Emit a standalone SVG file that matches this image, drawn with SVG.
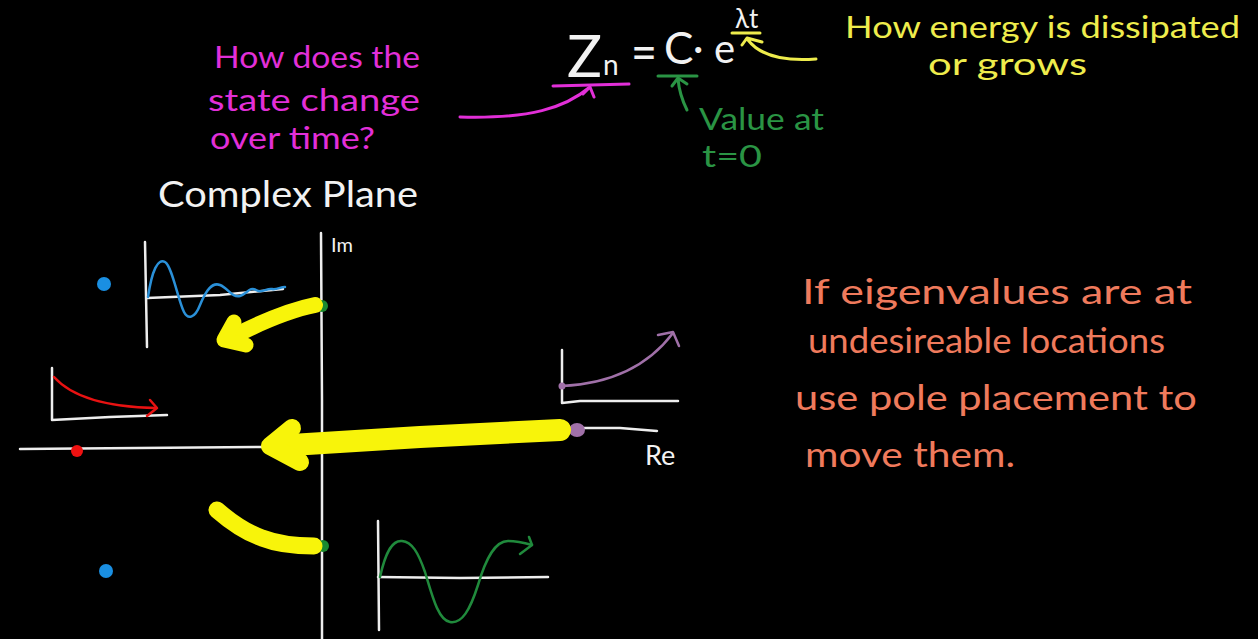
<svg xmlns="http://www.w3.org/2000/svg" width="1258" height="639" viewBox="0 0 1258 639">
<style>
text{font-family:"Lato","Open Sans","Liberation Sans",sans-serif}
.mag{fill:#e22fd8;font-size:31px}
.yel{fill:#eeec4c;font-size:31px}
.org{fill:#ef7a5c;font-size:34px}
.grn{fill:#2a9444;font-size:30px}
.wht{fill:#f2f2f2}
.ax{fill:none;stroke:#eeeeee;stroke-width:2.5;stroke-linecap:round;stroke-linejoin:round}
.thin{fill:none;stroke-width:2.5;stroke-linecap:round;stroke-linejoin:round}
.hl{fill:none;stroke:#f8f40a;stroke-linecap:round;stroke-linejoin:round}
</style>
<rect width="1258" height="639" fill="#000"/>

<g id="equation">
<text class="wht" x="567" y="77" font-size="58" textLength="35" lengthAdjust="spacingAndGlyphs">Z</text>
<text class="wht" x="603" y="75" font-size="28">n</text>
<text class="wht" x="631" y="70" font-size="50" textLength="26" lengthAdjust="spacingAndGlyphs">=</text>
<text class="wht" x="664" y="64" font-size="44">C</text>
<text class="wht" x="693" y="62" font-size="40">·</text>
<text class="wht" x="714" y="63" font-size="40">e</text>
<text class="wht" x="735" y="28" font-size="26">λt</text>
</g>

<g id="state-label">
<text class="mag" x="214" y="68" textLength="206" lengthAdjust="spacingAndGlyphs">How does the</text>
<text class="mag" x="208" y="111" textLength="212" lengthAdjust="spacingAndGlyphs">state change</text>
<text class="mag" x="210" y="149" textLength="165" lengthAdjust="spacingAndGlyphs">over time?</text>
</g>

<g id="energy-label">
<text class="yel" x="845" y="38" textLength="395" lengthAdjust="spacingAndGlyphs">How energy is dissipated</text>
<text class="yel" x="928" y="75" textLength="159" lengthAdjust="spacingAndGlyphs">or grows</text>
</g>

<g id="value-label">
<text class="grn" x="699" y="130" textLength="125" lengthAdjust="spacingAndGlyphs">Value at</text>
<text class="grn" x="702" y="167" textLength="60" lengthAdjust="spacingAndGlyphs">t=0</text>
</g>

<g id="title">
<text class="wht" x="158" y="207" font-size="36" textLength="260" lengthAdjust="spacingAndGlyphs">Complex Plane</text>
</g>

<g id="note">
<text class="org" x="802" y="304" textLength="390" lengthAdjust="spacingAndGlyphs">If eigenvalues are at</text>
<text class="org" x="808" y="353" textLength="357" lengthAdjust="spacingAndGlyphs">undesireable locations</text>
<text class="org" x="795" y="410" textLength="402" lengthAdjust="spacingAndGlyphs">use pole placement to</text>
<text class="org" x="805" y="467" textLength="210" lengthAdjust="spacingAndGlyphs">move them.</text>
</g>

<g id="axes">
<path class="ax" d="M321,233 L322,400 L322,639"/>
<path class="ax" d="M20,449 L268,447"/>
<path class="ax" d="M583,428 L620,428 L657,431"/>
<text class="wht" x="331" y="252" font-size="20">Im</text>
<text class="wht" x="645" y="465" font-size="27">Re</text>
</g>

<g id="graph-blue">
<path class="ax" d="M145,242 L147,347"/>
<path class="ax" d="M147,298 L220,295 L283,289"/>
<path class="thin" stroke="#2a90d8" d="M148,297 C152,270 158,258 165,262 C172,266 178,300 184,312 C188,320 195,318 200,305 C206,290 212,282 220,285 C228,288 232,298 240,296 C247,294 250,286 256,290 C262,294 266,288 272,289 C277,290 280,287 285,287"/>
<circle cx="104" cy="284" r="7" fill="#1a8fe2"/>
</g>

<g id="graph-red">
<path class="ax" d="M52,368 L52,420 L110,417 L167,415"/>
<path class="thin" stroke="#e81212" d="M54,377 C70,395 100,407 156,408"/>
<path class="thin" stroke="#e81212" d="M150,400 L157,408 L147,416"/>
<circle cx="77" cy="451" r="6" fill="#ee1111"/>
</g>

<g id="graph-purple">
<path class="ax" d="M562,350 L562,403 L580,401 L678,401"/>
<path class="thin" stroke="#a070a8" d="M562,386 C605,384 645,370 673,333"/>
<path class="thin" stroke="#a070a8" d="M658,335 L673,332 L679,346"/>
<circle cx="562" cy="386" r="3.5" fill="#a070a8"/>
<ellipse cx="577" cy="430" rx="8" ry="7" fill="#a070a8"/>
</g>

<g id="graph-green">
<path class="ax" d="M378,521 L379,630"/>
<path class="ax" d="M378,577 L460,578 L548,577"/>
<path class="thin" stroke="#208a3c" d="M380,577 C386,550 393,540 402,541 C412,542 418,552 425,572 C432,595 438,620 450,622 C462,624 470,610 478,585 C486,558 495,541 508,541 C518,541 525,543 532,545"/>
<path class="thin" stroke="#208a3c" d="M529,537 L532,545 L520,554"/>
</g>

<g id="pole-upper">
<circle cx="322" cy="306" r="6" fill="#1a8a30"/>
</g>
<g id="pole-lower">
<circle cx="323" cy="546" r="6" fill="#1a8a30"/>
</g>
<g id="pole-lower-left">
<circle cx="106" cy="571" r="7" fill="#1a8fe2"/>
</g>

<g id="connectors">
<path fill="none" stroke="#e22fd8" stroke-width="3" stroke-linecap="round" d="M553,86 L629,84"/>
<path fill="none" stroke="#e22fd8" stroke-width="3" stroke-linecap="round" stroke-linejoin="round" d="M460,117 C530,119 565,108 590,87 M583,94 L590,87 L594,97"/>
<path fill="none" stroke="#2a9444" stroke-width="3" stroke-linecap="round" d="M658,76 L697,76"/>
<path fill="none" stroke="#2a9444" stroke-width="3" stroke-linecap="round" stroke-linejoin="round" d="M687,110 C682,100 679,90 678,79 M672,86 L678,78 L687,84"/>
<path fill="none" stroke="#eeec4c" stroke-width="3" stroke-linecap="round" d="M732,33 L760,33"/>
<path fill="none" stroke="#eeec4c" stroke-width="3" stroke-linecap="round" stroke-linejoin="round" d="M816,59 C790,61 762,58 748,40 M742,45 L747,38 L762,42"/>
<path class="hl" stroke-width="16" d="M315,305 C290,310 262,322 238,334"/>
<path class="hl" stroke-width="15" d="M234,322 L224,340 L246,345"/>
<path class="hl" stroke-width="22" d="M560,430 L420,437 L275,446"/>
<path class="hl" stroke-width="18" d="M292,428 L270,446 L300,462"/>
<path class="hl" stroke-width="17" d="M217,510 C232,523 245,532 262,538 C280,545 298,546 314,546"/>
</g>
</svg>
